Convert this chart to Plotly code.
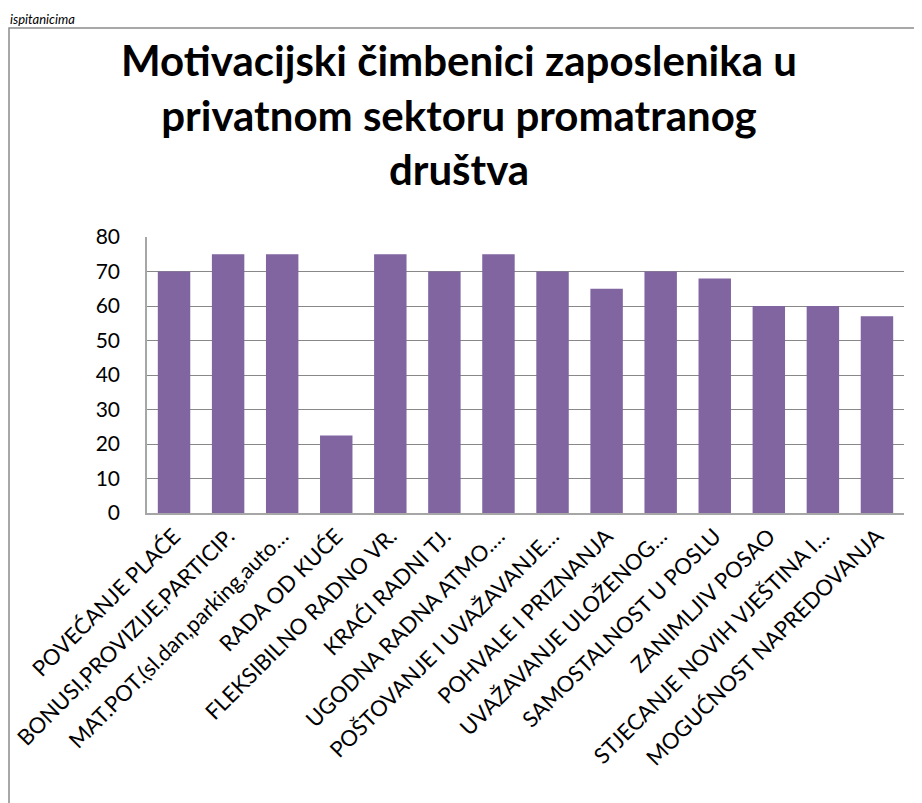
import plotly.graph_objects as go

categories = [
    "POVEĆANJE PLAĆE",
    "BONUSI,PROVIZIJE,PARTICIP.",
    "MAT.POT.(sl.dan,parking,auto…",
    "RADA OD KUĆE",
    "FLEKSIBILNO RADNO VR.",
    "KRAĆI RADNI TJ.",
    "UGODNA RADNA ATMO.…",
    "POŠTOVANJE I UVAŽAVANJE…",
    "POHVALE I PRIZNANJA",
    "UVAŽAVANJE ULOŽENOG…",
    "SAMOSTALNOST U POSLU",
    "ZANIMLJIV POSAO",
    "STJECANJE NOVIH VJEŠTINA I…",
    "MOGUĆNOST NAPREDOVANJA",
]
values = [70, 75, 75, 22.5, 75, 70, 75, 70, 65, 70, 68, 60, 60, 57]
y_ticks = [0, 10, 20, 30, 40, 50, 60, 70, 80]

title_text = "Motivacijski čimbenici zaposlenika u<br>privatnom sektoru promatranog<br>društva"
top_note = "ispitanicima"

W, H = 914, 795
L, R, T, B = 139, 18, 229, 290
pw = W - L - R
ph = H - T - B

def px_x(px):
    return (px - L) / pw

def px_y(py):
    return (H - B - py) / ph

FONT = "Lato, Open Sans, sans-serif"

fig = go.Figure(
    go.Bar(
        x=categories,
        y=values,
        marker=dict(color="#8065a0", line=dict(width=0)),
    )
)

fig.update_layout(
    width=W,
    height=H,
    margin=dict(l=L, r=R, t=T, b=B, autoexpand=False),
    paper_bgcolor="white",
    plot_bgcolor="white",
    bargap=0.4,
    showlegend=False,
    font=dict(family=FONT, color="black"),
    title=dict(
        text="<b>" + title_text + "</b>",
        font=dict(family=FONT, size=42, color="black"),
        x=451 / W,
        xref="container",
        xanchor="center",
        yref="container",
        y=1 - 68 / H,
        yanchor="middle",
    ),
    xaxis=dict(
        tickangle=-45,
        tickfont=dict(size=22),
        showgrid=False,
        showline=True,
        linecolor="#a6a6a6",
        linewidth=1.5,
        ticks="",
        automargin=False,
    ),
    yaxis=dict(
        range=[0, 80],
        tickvals=y_ticks,
        tickfont=dict(size=21),
        showgrid=True,
        gridcolor="#888888",
        gridwidth=1,
        showline=True,
        linecolor="#a6a6a6",
        linewidth=1.5,
        ticks="",
        ticklabelstandoff=21,
        zeroline=False,
        automargin=False,
    ),
    shapes=[
        dict(
            type="rect",
            xref="paper",
            yref="paper",
            x0=px_x(1),
            x1=px_x(940),
            y0=px_y(820),
            y1=px_y(20),
            line=dict(color="#8c8c8c", width=1.5),
            fillcolor="rgba(0,0,0,0)",
            layer="below",
        )
    ],
    annotations=[
        dict(
            text="<i>" + top_note + "</i>",
            xref="paper",
            yref="paper",
            x=px_x(0),
            y=px_y(1),
            xanchor="left",
            yanchor="top",
            showarrow=False,
            font=dict(size=13, family=FONT),
        )
    ],
)

fig.write_html("out.html")
